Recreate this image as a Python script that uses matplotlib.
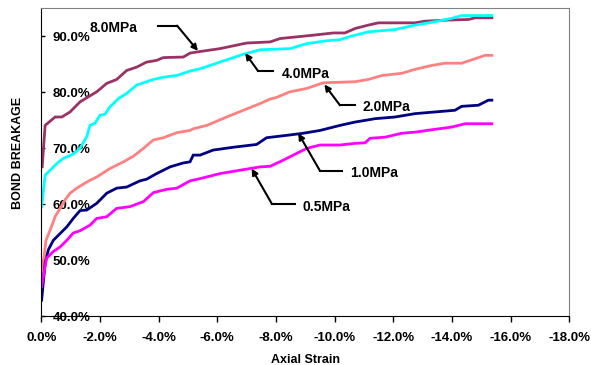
import matplotlib
matplotlib.use('Agg')
import matplotlib.pyplot as plt
from matplotlib.ticker import FuncFormatter, MultipleLocator

plt.rcParams['font.family'] = ['Liberation Sans', 'DejaVu Sans']
plt.rcParams['font.weight'] = 'bold'

# axial strain (%) and bond breakage (%)
strain_8 = [0.03, 0.13, 0.47, 0.70, 0.98, 1.32, 1.89, 2.23, 2.57, 2.91, 3.25, 3.59, 3.93, 4.16,
            4.84, 5.07, 5.30, 6.09, 7.00, 7.80, 8.14, 9.27, 9.96, 10.35, 10.70, 11.15, 11.49,
            12.74, 13.08, 13.88, 14.56, 14.79, 15.36]
bb_8 = [66.7, 74.1, 75.6, 75.6, 76.5, 78.3, 80.1, 81.6, 82.3, 83.9, 84.5, 85.4, 85.7, 86.2,
        86.3, 87.0, 87.2, 87.8, 88.8, 89.0, 89.6, 90.2, 90.6, 90.6, 91.4, 92.0, 92.4,
        92.4, 92.7, 92.9, 93.0, 93.3, 93.3]

strain_4 = [0.01, 0.13, 0.30, 0.53, 0.75, 1.09, 1.32, 1.55, 1.66, 1.83, 2.00, 2.17, 2.34, 2.63,
            2.91, 3.25, 3.48, 3.82, 4.16, 4.62, 5.07, 5.41, 6.09, 6.89, 7.46, 8.48, 9.05,
            9.73, 10.18, 10.55, 11.15, 12.06, 12.74, 13.42, 13.99, 14.33, 15.36]
bb_4 = [59.6, 65.2, 66.1, 67.3, 68.2, 69.0, 70.0, 72.1, 74.1, 74.5, 75.9, 76.1, 77.4, 78.9,
        79.8, 81.3, 81.7, 82.3, 82.7, 83.0, 83.8, 84.2, 85.4, 86.8, 87.6, 87.8, 88.7,
        89.2, 89.4, 90.0, 90.8, 91.2, 92.0, 92.6, 93.2, 93.7, 93.7]

strain_2 = [0.01, 0.16, 0.30, 0.47, 0.64, 0.81, 0.98, 1.21, 1.55, 1.89, 2.34, 2.80, 3.14, 3.48,
            3.82, 4.16, 4.62, 5.07, 5.18, 5.64, 6.32, 6.89, 7.46, 7.80, 8.02, 8.48, 9.05,
            9.61, 10.70, 11.15, 11.61, 12.29, 12.74, 13.31, 13.76, 14.33, 14.79, 15.13, 15.36]
bb_2 = [47.1, 53.6, 55.4, 57.8, 59.3, 60.8, 62.0, 62.9, 64.0, 64.9, 66.4, 67.6, 68.6, 70.0,
        71.5, 71.9, 72.8, 73.2, 73.5, 74.1, 75.6, 76.8, 78.0, 78.8, 79.1, 80.1, 80.7,
        81.7, 81.9, 82.3, 83.0, 83.4, 84.1, 84.8, 85.2, 85.2, 86.0, 86.6, 86.6]

strain_1 = [0.01, 0.13, 0.24, 0.41, 0.64, 0.87, 1.09, 1.32, 1.55, 1.89, 2.23, 2.57, 2.91, 3.36,
            3.59, 3.93, 4.39, 4.84, 5.07, 5.18, 5.41, 5.86, 6.54, 7.34, 7.68, 8.48, 8.93,
            9.50, 10.18, 10.70, 11.38, 12.06, 12.74, 13.42, 14.10, 14.33, 14.90, 15.24, 15.36]
bb_1 = [42.9, 49.5, 51.9, 53.6, 54.8, 56.0, 57.5, 58.9, 59.0, 60.2, 62.0, 62.9, 63.1, 64.2,
        64.5, 65.5, 66.7, 67.4, 67.6, 68.8, 68.8, 69.7, 70.2, 70.7, 71.9, 72.4, 72.7,
        73.2, 74.1, 74.7, 75.3, 75.6, 76.2, 76.5, 76.8, 77.5, 77.7, 78.6, 78.6]

strain_05 = [0.01, 0.18, 0.41, 0.64, 0.87, 1.09, 1.32, 1.66, 1.89, 2.23, 2.57, 3.02, 3.48,
             3.82, 4.28, 4.62, 5.07, 5.41, 6.09, 6.77, 7.46, 7.80, 8.25, 8.59, 9.05, 9.50,
             10.18, 10.70, 11.04, 11.21, 11.72, 12.29, 12.74, 13.42, 13.99, 14.45, 15.36]
bb_05 = [45.3, 50.4, 51.6, 52.4, 53.6, 54.9, 55.3, 56.3, 57.5, 57.8, 59.3, 59.6, 60.5,
         62.1, 62.7, 62.9, 64.2, 64.6, 65.5, 66.1, 66.7, 66.8, 67.9, 68.8, 70.0, 70.6,
         70.6, 70.9, 71.0, 71.8, 72.0, 72.7, 72.9, 73.4, 73.8, 74.4, 74.4]

series = [
    ('8.0MPa', strain_8, bb_8, '#993366'),
    ('4.0MPa', strain_4, bb_4, '#00FFFF'),
    ('2.0MPa', strain_2, bb_2, '#FF8080'),
    ('1.0MPa', strain_1, bb_1, '#000080'),
    ('0.5MPa', strain_05, bb_05, '#FF00FF'),
]

# label text (x, y), free end of the leader, elbow, arrow tip  (strain %, breakage %)
labels = {
    '8.0MPa': ((1.63, 91.4), (3.98, 91.9), (4.63, 91.9), (5.34, 87.4)),
    '4.0MPa': ((8.21, 83.2), (7.90, 83.8), (7.39, 83.8), (6.95, 87.0)),
    '2.0MPa': ((10.96, 77.3), (10.69, 77.7), (10.18, 77.7), (9.65, 81.4)),
    '1.0MPa': ((10.52, 65.6), (10.24, 66.0), (9.50, 66.0), (8.76, 72.7)),
    '0.5MPa': ((8.91, 59.5), (8.65, 60.1), (7.86, 60.1), (7.17, 66.4)),
}

fig = plt.figure(figsize=(5.91, 3.65), dpi=100)
ax = fig.add_axes([0.0699, 0.1329, 0.8934, 0.8444])

for name, sx, sy, col in series:
    ax.plot([-v for v in sx], sy, color=col, lw=2.0, solid_joinstyle='miter')

for name, (txt, start, elbow, tip) in labels.items():
    ax.plot([-start[0], -elbow[0]], [start[1], elbow[1]], color='black', lw=1.5)
    ax.annotate('', xy=(-tip[0], tip[1]), xytext=(-elbow[0], elbow[1]),
                arrowprops=dict(arrowstyle='-|>', color='black', lw=1.5,
                                mutation_scale=9, shrinkA=0, shrinkB=0))
    ax.text(-txt[0], txt[1], name, fontsize=10, fontweight='bold', va='center', ha='left')

ax.set_xlim(0, -18)
ax.set_ylim(40, 95)
ax.xaxis.set_major_locator(MultipleLocator(2))
ax.yaxis.set_major_locator(MultipleLocator(10))
ax.xaxis.set_major_formatter(FuncFormatter(lambda v, p: '%.1f%%' % v if v != 0 else '0.0%'))
ax.yaxis.set_major_formatter(FuncFormatter(lambda v, p: '%.1f%%' % v))

ax.tick_params(axis='x', direction='out', length=4, width=1, pad=7.5, labelsize=9.5)
ax.tick_params(axis='y', direction='in', length=3, width=1, pad=-8, labelsize=9.5)
for lab in ax.get_yticklabels():
    lab.set_horizontalalignment('left')
    lab.set_fontweight('bold')
for lab in ax.get_xticklabels():
    lab.set_fontweight('bold')

ax.spines['left'].set_color('black')
ax.spines['bottom'].set_color('black')
ax.spines['top'].set_color('#808080')
ax.spines['right'].set_color('#808080')

ax.set_xlabel('Axial Strain', fontsize=9, fontweight='bold', labelpad=7)
ax.set_ylabel('BOND BREAKAGE', fontsize=9, fontweight='bold')
ax.yaxis.set_label_coords(-0.032, 0.53)

fig.savefig('out.png', dpi=100)
